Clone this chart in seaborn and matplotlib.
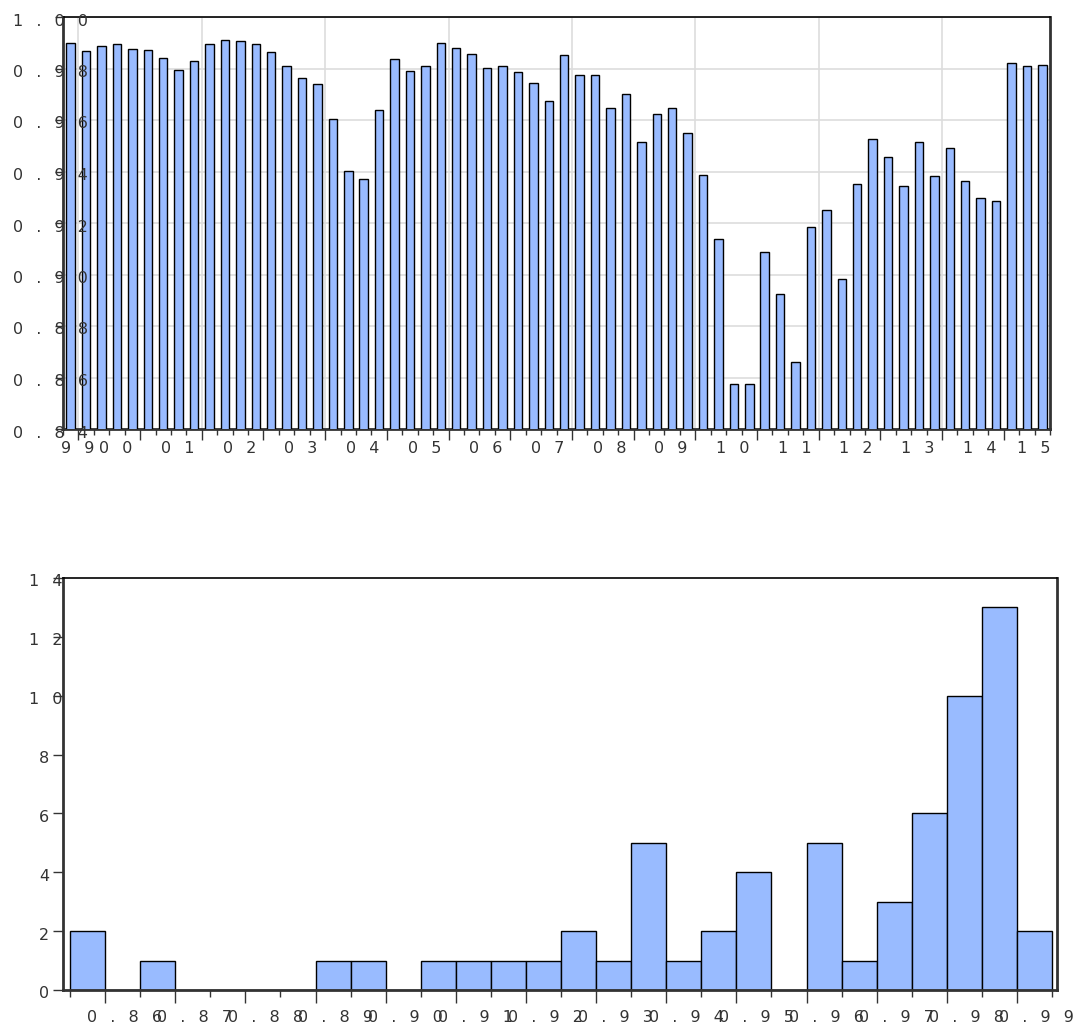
import numpy as np
import pandas as pd
import matplotlib
matplotlib.use("Agg")
import matplotlib.pyplot as plt
import matplotlib.transforms as mtrans
import seaborn as sns

# ---------------- data ----------------
# quarterly series, 1999Q4 .. 2015Q3
quarters = list(range(64))
values = [
    0.9898, 0.9867, 0.9886, 0.9894, 0.9875, 0.9871, 0.9841, 0.9793,
    0.9829, 0.9894, 0.9910, 0.9908, 0.9896, 0.9865, 0.9808, 0.9763,
    0.9741, 0.9603, 0.9403, 0.9370, 0.9638, 0.9836, 0.9789, 0.9811,
    0.9898, 0.9881, 0.9855, 0.9802, 0.9808, 0.9785, 0.9744, 0.9675,
    0.9852, 0.9775, 0.9774, 0.9645, 0.9702, 0.9515, 0.9622, 0.9645,
    0.9548, 0.9388, 0.9139, 0.8574, 0.8574, 0.9089, 0.8924, 0.8661,
    0.9186, 0.9249, 0.8984, 0.9351, 0.9525, 0.9458, 0.9345, 0.9516,
    0.9381, 0.9492, 0.9362, 0.9296, 0.9284, 0.9820, 0.9808, 0.9814,
]
year_labels = ["99", "00", "01", "02", "03", "04", "05", "06", "07",
               "08", "09", "10", "11", "12", "13", "14", "15"]
top_yticks = [0.84, 0.86, 0.88, 0.90, 0.92, 0.94, 0.96, 0.98, 1.00]
top_ylabels = ["0.84", "0.86", "0.88", "0.90", "0.92", "0.94", "0.96", "0.98", "1.00"]
hist_edges = [round(0.855 + 0.005 * k, 3) for k in range(29)]
hist_xticks = [0.86, 0.87, 0.88, 0.89, 0.90, 0.91, 0.92, 0.93, 0.94, 0.95, 0.96, 0.97, 0.98, 0.99]
hist_xlabels = ["0.86", "0.87", "0.88", "0.89", "0.90", "0.91", "0.92", "0.93",
                "0.94", "0.95", "0.96", "0.97", "0.98", "0.99"]
hist_yticks = [0, 2, 4, 6, 8, 10, 12, 14]
hist_ylabels = ["0", "2", "4", "6", "8", "10", "12", "14"]

BAR = "#99BBFF"
TXT = "#333333"
FS = 11.5
SEP = "\u2002 "

sns.set_theme(style="white")
plt.rcParams["font.family"] = ["DejaVu Sans"]

W, H = 1073, 1025
fig = plt.figure(figsize=(W / 100, H / 100), dpi=100)

def px_axes(l, t, r, b):
    return fig.add_axes([l / W, 1 - b / H, (r - l) / W, (b - t) / H])

ax1 = px_axes(63, 17, 1050, 429)
ax2 = px_axes(63, 578, 1057, 990)
renderer = fig.canvas.get_renderer()

def nat_width(s):
    t = fig.text(0, 0, s, fontsize=FS)
    w = t.get_window_extent(renderer=renderer).width
    t.remove()
    return w

def spaced(s):
    return SEP.join(list(s))

def off(dx, dy):
    return mtrans.ScaledTranslation(dx / 100, dy / 100, fig.dpi_scale_trans)

# ---------------- top: bar chart ----------------
df = pd.DataFrame({"q": quarters, "v": values})
sns.barplot(data=df, x="q", y="v", color=BAR, saturation=1, width=0.55,
            edgecolor="black", linewidth=1, ax=ax1, zorder=3)
ax1.set_xlim(-0.5, 63.5)
ax1.set_ylim(0.84, 1.00)
ax1.set_xlabel("")
ax1.set_ylabel("")
# gridlines
for yv in top_yticks:
    ax1.axhline(yv, color="#dddddd", lw=1.2, zorder=0)
for xv in np.arange(0.5, 63.5, 8):
    ax1.axvline(xv, color="#dddddd", lw=1.2, zorder=0)
# ticks
ax1.set_xticks(np.arange(0.5, 63.5, 4))
ax1.set_xticks(np.arange(-0.5, 63.6, 1), minor=True)
ax1.set_xticklabels([])
ax1.set_yticks(top_yticks)
ax1.set_yticklabels([])
ax1.tick_params(axis="x", which="major", direction="out", length=8, width=1, color="#333333", bottom=True)
ax1.tick_params(axis="x", which="minor", direction="out", length=4, width=1, color="#333333", bottom=True)
ax1.tick_params(axis="y", direction="out", length=6, width=1, color="#333333", left=True)
# year labels, centred on visible part of each year
year_start = -3.0
for k, lab in enumerate(year_labels):
    lo = max(year_start + 4 * k - 0.5, -0.5)
    hi = min(year_start + 4 * k + 3.5, 63.5)
    c = (lo + hi) / 2
    w = nat_width(lab)
    tr = mtrans.blended_transform_factory(ax1.transData, ax1.transAxes) + off(-w / 2, -12)
    ax1.text(c, 0, spaced(lab), transform=tr, ha="left", va="top", fontsize=FS, color=TXT)
for yv, lab in zip(top_yticks, top_ylabels):
    w = nat_width(lab)
    tr = mtrans.blended_transform_factory(ax1.transAxes, ax1.transData) + off(-14 - w, -4)
    ax1.text(0, yv, spaced(lab), transform=tr, ha="left", va="center", fontsize=FS, color=TXT)

# ---------------- bottom: histogram ----------------
sns.histplot(x=values, bins=hist_edges, color=BAR, alpha=1, edgecolor="black",
             linewidth=1, ax=ax2)
ax2.set_xlim(0.854, 0.9957)
ax2.set_ylim(0, 14)
ax2.set_xlabel("")
ax2.set_ylabel("")
ax2.grid(False)
ax2.set_xticks(hist_xticks)
ax2.set_xticks(hist_edges, minor=True)
ax2.set_xticklabels([])
ax2.set_yticks(hist_yticks)
ax2.set_yticklabels([])
ax2.tick_params(axis="x", which="major", direction="out", length=9, width=1, color="#333333", bottom=True)
ax2.tick_params(axis="x", which="minor", direction="out", length=5, width=1, color="#333333", bottom=True)
ax2.tick_params(axis="y", direction="out", length=7, width=1, color="#333333", left=True)
for xv, lab in zip(hist_xticks, hist_xlabels):
    w = nat_width(lab)
    tr = mtrans.blended_transform_factory(ax2.transData, ax2.transAxes) + off(-w / 2, -20)
    ax2.text(xv, 0, spaced(lab), transform=tr, ha="left", va="top", fontsize=FS, color=TXT)
for yv, lab in zip(hist_yticks, hist_ylabels):
    w = nat_width(lab)
    tr = mtrans.blended_transform_factory(ax2.transAxes, ax2.transData) + off(-14 - w, -4)
    ax2.text(0, yv, spaced(lab), transform=tr, ha="left", va="center", fontsize=FS, color=TXT)

for ax in (ax1, ax2):
    for side in ("left", "bottom", "right"):
        ax.spines[side].set_color("#333333")
        ax.spines[side].set_linewidth(2)
    ax.spines["top"].set_color("black")
    ax.spines["top"].set_linewidth(1.2)
    ax.set_facecolor("white")

fig.savefig("out.png", dpi=100, facecolor="white")
